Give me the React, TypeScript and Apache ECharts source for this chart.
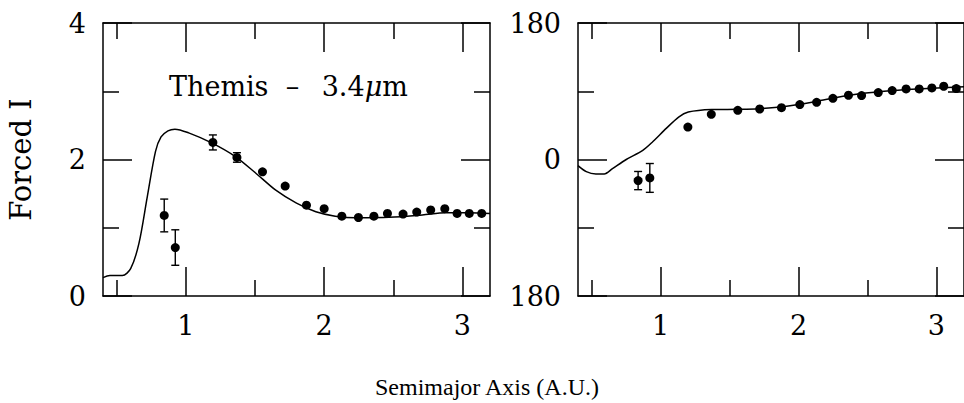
import React, { useEffect, useRef } from "react";
import * as echarts from "echarts";

// ---- Left panel (Forced I) ----
const leftDotX = [0.843, 0.923, 1.195, 1.369, 1.554, 1.718, 1.872, 2.0, 2.128, 2.248, 2.36, 2.458, 2.571, 2.67, 2.771, 2.873, 2.962, 3.05, 3.14];
const leftDotY = [1.18, 0.71, 2.25, 2.03, 1.82, 1.61, 1.33, 1.28, 1.17, 1.15, 1.17, 1.21, 1.2, 1.23, 1.26, 1.28, 1.21, 1.21, 1.21];
const leftDotErr = [0.24, 0.26, 0.11, 0.07, 0, 0, 0, 0, 0, 0, 0, 0, 0, 0, 0, 0, 0, 0, 0];
const leftCurveX = [0.4, 0.45, 0.54, 0.6, 0.66, 0.72, 0.78, 0.82, 0.87, 0.92, 1.02, 1.19, 1.36, 1.5, 1.65, 1.8, 1.94, 2.08, 2.23, 2.47, 2.71, 2.88, 3.05, 3.2];
const leftCurveY = [0.27, 0.3, 0.3, 0.4, 0.77, 1.45, 2.12, 2.33, 2.42, 2.445, 2.39, 2.24, 2.04, 1.81, 1.55, 1.36, 1.235, 1.17, 1.147, 1.153, 1.187, 1.22, 1.22, 1.21];

// ---- Right panel ----
const rightDotX = [0.836, 0.921, 1.197, 1.367, 1.559, 1.718, 1.876, 2.009, 2.131, 2.249, 2.362, 2.457, 2.578, 2.679, 2.78, 2.875, 2.967, 3.053, 3.144];
const rightDotY = [-27.8, -24.3, 42.8, 59.6, 64.8, 66.6, 68.4, 72.4, 75.4, 80.7, 84.7, 84.3, 88.3, 90.9, 93.0, 93.0, 94.4, 96.6, 93.5];
const rightDotErr = [12, 19, 0, 0, 0, 0, 0, 0, 0, 0, 0, 0, 0, 0, 0, 0, 0, 0, 3];
const rightCurveX = [0.4, 0.46, 0.53, 0.59, 0.65, 0.75, 0.87, 0.94, 1.04, 1.13, 1.2, 1.37, 1.56, 1.71, 1.9, 2.14, 2.38, 2.62, 2.86, 3.2];
const rightCurveY = [-8, -16, -19, -19, -12, 0, 12, 23, 41, 56, 62.5, 65.8, 66.2, 67, 70, 77, 85, 90, 93, 96];

// ---- Axis ticks / labels ----
const xMajorTicks = [1, 2, 3];
const xMinorTicks = [0.5, 1.5, 2.5];
const xRange = [0.4, 3.2];
const leftYRange = [0, 4];
const rightYRange = [-180, 180];

const FONT = "DejaVu Serif";
const INK = "#000";

function zip(xs: number[], ys: number[]) {
  return xs.map((x, i) => [x, ys[i]]);
}
function zip3(xs: number[], ys: number[], es: number[]) {
  return xs.map((x, i) => [x, ys[i], es[i]]);
}

export default function App() {
  const ref = useRef<HTMLDivElement>(null);

  useEffect(() => {
    if (!ref.current) return;
    const chart = echarts.init(ref.current, undefined, { renderer: "svg" });

    const lineStyle = { color: "#000", width: 1.5 };

    const xAxes: any[] = [];
    const yAxes: any[] = [];
    [0, 1].forEach((g) => {
      const base = {
        gridIndex: g, type: "value", min: xRange[0], max: xRange[1], splitLine: { show: false },
      };
      // bottom: line + labels
      xAxes.push({
        ...base, position: "bottom",
        axisLine: { show: true, onZero: false, lineStyle },
        axisTick: { show: false },
        axisLabel: { show: true, customValues: xMajorTicks, margin: 16, fontSize: 27, color: INK, fontFamily: FONT },
      });
      // bottom major ticks
      xAxes.push({
        ...base, position: "bottom",
        axisLine: { show: false, onZero: false },
        axisTick: { show: true, inside: true, length: 29, customValues: xMajorTicks, lineStyle },
        axisLabel: { show: false },
      });
      // bottom minor ticks
      xAxes.push({
        ...base, position: "bottom",
        axisLine: { show: false, onZero: false },
        axisTick: { show: true, inside: true, length: 16, customValues: xMinorTicks, lineStyle },
        axisLabel: { show: false },
      });
      // top major ticks + line
      xAxes.push({
        ...base, position: "top",
        axisLine: { show: true, onZero: false, lineStyle },
        axisTick: { show: true, inside: true, length: 29, customValues: xMajorTicks, lineStyle },
        axisLabel: { show: false },
      });
      // top minor ticks
      xAxes.push({
        ...base, position: "top",
        axisLine: { show: false, onZero: false },
        axisTick: { show: true, inside: true, length: 16, customValues: xMinorTicks, lineStyle },
        axisLabel: { show: false },
      });
      const yr = g === 0 ? leftYRange : rightYRange;
      const iv = g === 0 ? 2 : 180;
      yAxes.push({
        gridIndex: g, type: "value", position: "left", min: yr[0], max: yr[1], interval: iv,
        name: g === 0 ? "Forced I" : "",
        nameLocation: "middle", nameGap: 68, nameRotate: 90,
        nameTextStyle: { fontSize: 29, fontFamily: FONT, color: INK },
        axisLine: { show: true, onZero: false, lineStyle },
        axisTick: { show: true, inside: true, length: 29, lineStyle },
        minorTick: { show: true, splitNumber: 2, length: 16, lineStyle },
        axisLabel: {
          show: true, margin: 17, fontSize: 27, color: INK, fontFamily: FONT,
          showMinLabel: true, showMaxLabel: true,
          formatter: (v: number) => String(Math.abs(v)),
        },
        splitLine: { show: false },
      });
      yAxes.push({
        gridIndex: g, type: "value", position: "right", min: yr[0], max: yr[1], interval: iv,
        axisLine: { show: true, onZero: false, lineStyle },
        axisTick: { show: true, inside: true, length: 29, lineStyle },
        minorTick: { show: true, splitNumber: 2, length: 16, lineStyle },
        axisLabel: { show: false },
        splitLine: { show: false },
      });
    });

    const errorRender = (params: any, api: any) => {
      const x = api.value(0);
      const y = api.value(1);
      const e = api.value(2);
      if (!e) return { type: "group", children: [] };
      const top = api.coord([x, y + e]);
      const bot = api.coord([x, y - e]);
      const s = { stroke: INK, lineWidth: 1.4 };
      return {
        type: "group",
        children: [
          { type: "line", shape: { x1: top[0], y1: top[1], x2: bot[0], y2: bot[1] }, style: s },
          { type: "line", shape: { x1: top[0] - 4, y1: top[1], x2: top[0] + 4, y2: top[1] }, style: s },
          { type: "line", shape: { x1: bot[0] - 4, y1: bot[1], x2: bot[0] + 4, y2: bot[1] }, style: s },
        ],
      };
    };

    const dotStyle = { color: INK, opacity: 1 };
    const RX = 5; // first x axis of the right grid

    const option: any = {
      animation: false,
      backgroundColor: "#fff",
      title: [
        {
          text: "Semimajor Axis (A.U.)",
          left: 482, top: 370, textAlign: "center",
          textStyle: { fontSize: 24, fontFamily: "Liberation Serif", color: INK, fontWeight: "normal" },
        },
        {
          text: "Themis  –  \u20093.4{b|μ}m",
          left: 164, top: 68,
          textStyle: {
            fontSize: 27, fontFamily: FONT, color: INK, fontWeight: "normal",
            rich: { b: { fontSize: 27, fontFamily: FONT, fontStyle: "italic", color: INK } },
          },
        },
      ],
      grid: [
        { left: 103, top: 23, width: 387, height: 273 },
        { left: 578, top: 23, width: 387, height: 273 },
      ],
      xAxis: xAxes,
      yAxis: yAxes,
      series: [
        {
          type: "line", xAxisIndex: 0, yAxisIndex: 0, data: zip(leftCurveX, leftCurveY),
          smooth: 0.3, showSymbol: false, lineStyle: { color: "#000", width: 1.5 }, z: 2,
        },
        {
          type: "custom", xAxisIndex: 0, yAxisIndex: 0, data: zip3(leftDotX, leftDotY, leftDotErr),
          renderItem: errorRender, z: 3,
        },
        {
          type: "scatter", xAxisIndex: 0, yAxisIndex: 0, data: zip(leftDotX, leftDotY),
          symbolSize: 9, itemStyle: dotStyle, z: 4,
        },
        {
          type: "line", xAxisIndex: RX, yAxisIndex: 2, data: zip(rightCurveX, rightCurveY),
          smooth: 0.3, showSymbol: false, lineStyle: { color: "#000", width: 1.5 }, z: 2,
        },
        {
          type: "custom", xAxisIndex: RX, yAxisIndex: 2, data: zip3(rightDotX, rightDotY, rightDotErr),
          renderItem: errorRender, z: 3,
        },
        {
          type: "scatter", xAxisIndex: RX, yAxisIndex: 2, data: zip(rightDotX, rightDotY),
          symbolSize: 9, itemStyle: dotStyle, z: 4,
        },
      ],
    };

    chart.setOption(option);
    return () => chart.dispose();
  }, []);

  return (
    <div
      ref={ref}
      style={{ position: "absolute", left: 0, top: 0, width: 964, height: 403, background: "#fff" }}
    />
  );
}
